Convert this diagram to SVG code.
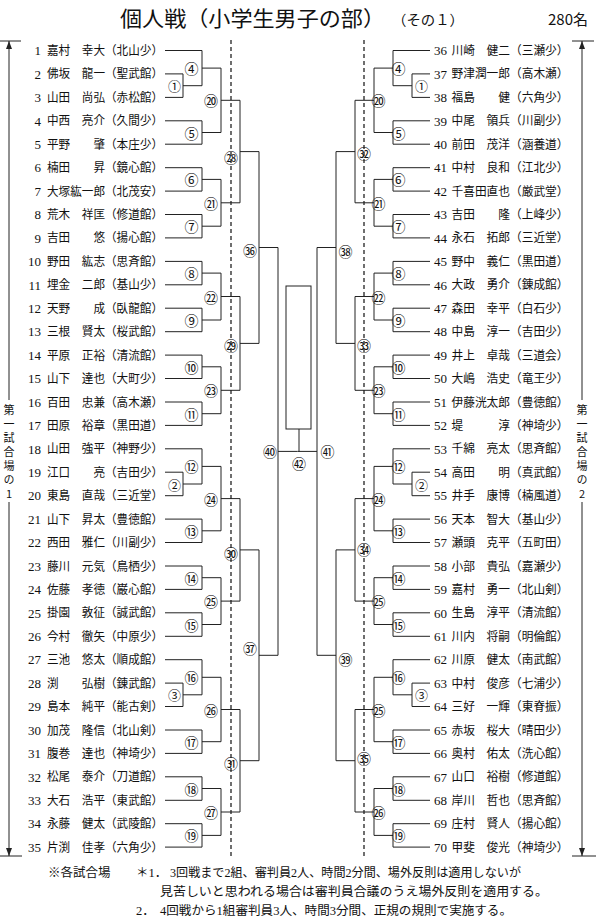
<svg xmlns="http://www.w3.org/2000/svg" xmlns:xlink="http://www.w3.org/1999/xlink" width="600" height="921" viewBox="0 0 600 921">
<style>
.bg{fill:#fff}
.ln{fill:none;stroke:#222;stroke-width:1}
.ds{fill:none;stroke:#222;stroke-width:1.3;stroke-dasharray:4 3}
.num{font-family:"Liberation Serif","Noto Sans CJK JP",serif;font-size:13px;fill:#111;text-anchor:end}
.nm{font-family:"Noto Sans CJK JP",sans-serif;font-size:12px;fill:#111}
.c{font-family:"Noto Sans CJK JP",sans-serif;font-size:14px;fill:#111;text-anchor:middle;dominant-baseline:central}
.cp{font-size:13px}
.vt{font-family:"Noto Sans CJK JP",sans-serif;font-size:11px;fill:#111;writing-mode:vertical-rl;text-orientation:upright;letter-spacing:3px}
.ft{font-family:"Liberation Serif","Noto Sans CJK JP",serif;font-size:12.5px;fill:#111}
.ti{font-family:"Noto Sans CJK JP",sans-serif;fill:#111}
</style>
<defs>
<marker id="ah" viewBox="0 0 8 6" refX="8" refY="3" markerWidth="8" markerHeight="6" markerUnits="userSpaceOnUse" orient="auto-start-reverse"><path d="M0,0 L8,3 L0,6 z" fill="#222"/></marker>
</defs>
<rect class="bg" x="0" y="0" width="600" height="921"/>

<g id="title">
<text class="ti" x="120" y="26" font-size="21" textLength="265" lengthAdjust="spacingAndGlyphs">個人戦（小学生男子の部）</text>
<text class="ti" x="392" y="25" font-size="14" textLength="72" lengthAdjust="spacingAndGlyphs">（その１）</text>
<text class="ti" x="548" y="25" font-size="15" font-family="Liberation Serif, Noto Sans CJK JP, serif">280名</text>
</g>

<g id="connectors">
<path class="ds" d="M231 40V858M364 40V858"/>
<g id="conL">
<path class="ln" d="M165 50.5H202M165 73.9H183M165 97.4H183M165 120.8H202M165 144.2H202M165 167.7H202M165 191.1H202M165 214.5H202M165 237.9H202M165 261.4H202M165 284.8H202M165 308.2H202M165 331.7H202M165 355.1H202M165 378.5H202M165 402H202M165 425.4H202M165 448.8H202M165 472.2H183M165 495.7H183M165 519.1H202M165 542.5H202M165 566H202M165 589.4H202M165 612.8H202M165 636.3H202M165 659.7H202M165 683.1H183M165 706.5H183M165 730H202M165 753.4H202M165 776.8H202M165 800.3H202M165 823.7H202M165 847.1H202"/>
<path class="ln" d="M183 73.9V97.4M183 85.7H202M183 472.2V495.7M183 484H202M183 683.1V706.5M183 694.8H202"/>
<path class="ln" d="M202 50.5V85.7M202 68.1H221M202 120.8V144.2M202 132.5H221M202 167.7V191.1M202 179.4H221M202 214.5V237.9M202 226.2H221M202 261.4V284.8M202 273.1H221M202 308.2V331.7M202 320H221M202 355.1V378.5M202 366.8H221M202 402V425.4M202 413.7H221M202 448.8V484M202 466.4H221M202 519.1V542.5M202 530.8H221M202 566V589.4M202 577.7H221M202 612.8V636.3M202 624.5H221M202 659.7V694.8M202 677.3H221M202 730V753.4M202 741.7H221M202 776.8V800.3M202 788.5H221M202 823.7V847.1M202 835.4H221"/>
<path class="ln" d="M221 68.1V132.5M221 100.3H240M221 179.4V226.2M221 202.8H240M221 273.1V320M221 296.5H240M221 366.8V413.7M221 390.3H240M221 466.4V530.8M221 498.6H240M221 577.7V624.5M221 601.1H240M221 677.3V741.7M221 709.5H240M221 788.5V835.4M221 812H240"/>
<path class="ln" d="M240 100.3V202.8M240 151.6H259M240 296.5V390.3M240 343.4H259M240 498.6V601.1M240 549.9H259M240 709.5V812M240 760.7H259"/>
<path class="ln" d="M259 151.6V343.4M259 247.5H278M259 549.9V760.7M259 655.3H278"/>
<path class="ln" d="M278 247.5V655.3M278 451.4H297.5"/>
</g>
<use xlink:href="#conL" href="#conL" transform="matrix(-1 0 0 1 595 0)"/>
<path class="ln" d="M299 429V451.4"/>
<path class="ln" d="M0 41H21M0 856H22"/>
<path class="ln" d="M9 400V41" marker-end="url(#ah)"/>
<path class="ln" d="M9 502V856" marker-end="url(#ah)"/>
<path class="ln" d="M572 41H594M572 856H596"/>
<path class="ln" d="M582 400V41" marker-end="url(#ah)"/>
<path class="ln" d="M582 502V856" marker-end="url(#ah)"/>
</g>

<g id="winner"><rect class="ln" x="286" y="286" width="25" height="143"/></g>

<g id="side1"><text class="vt" x="9" y="404">第一試合場の1</text></g>
<g id="side2"><text class="vt" x="582" y="404">第一試合場の2</text></g>

<g id="players-left">
<g id="p1" transform="translate(0,50.5)"><text class="num" x="41" y="4.7">1</text><text class="nm" x="47" y="4.5" textLength="116" lengthAdjust="spacingAndGlyphs">嘉村　幸大（北山少）</text></g>
<g id="p2" transform="translate(0,73.9)"><text class="num" x="41" y="4.7">2</text><text class="nm" x="47" y="4.5" textLength="116" lengthAdjust="spacingAndGlyphs">佛坂　龍一（聖武館）</text></g>
<g id="p3" transform="translate(0,97.4)"><text class="num" x="41" y="4.7">3</text><text class="nm" x="47" y="4.5" textLength="116" lengthAdjust="spacingAndGlyphs">山田　尚弘（赤松館）</text></g>
<g id="p4" transform="translate(0,120.8)"><text class="num" x="41" y="4.7">4</text><text class="nm" x="47" y="4.5" textLength="116" lengthAdjust="spacingAndGlyphs">中西　亮介（久間少）</text></g>
<g id="p5" transform="translate(0,144.2)"><text class="num" x="41" y="4.7">5</text><text class="nm" x="47" y="4.5" textLength="116" lengthAdjust="spacingAndGlyphs">平野　　肇（本庄少）</text></g>
<g id="p6" transform="translate(0,167.7)"><text class="num" x="41" y="4.7">6</text><text class="nm" x="47" y="4.5" textLength="116" lengthAdjust="spacingAndGlyphs">楠田　　昇（鏡心館）</text></g>
<g id="p7" transform="translate(0,191.1)"><text class="num" x="41" y="4.7">7</text><text class="nm" x="47" y="4.5" textLength="116" lengthAdjust="spacingAndGlyphs">大塚紘一郎（北茂安）</text></g>
<g id="p8" transform="translate(0,214.5)"><text class="num" x="41" y="4.7">8</text><text class="nm" x="47" y="4.5" textLength="116" lengthAdjust="spacingAndGlyphs">荒木　祥匡（修道館）</text></g>
<g id="p9" transform="translate(0,237.9)"><text class="num" x="41" y="4.7">9</text><text class="nm" x="47" y="4.5" textLength="116" lengthAdjust="spacingAndGlyphs">吉田　　悠（揚心館）</text></g>
<g id="p10" transform="translate(0,261.4)"><text class="num" x="41" y="4.7">10</text><text class="nm" x="47" y="4.5" textLength="116" lengthAdjust="spacingAndGlyphs">野田　紘志（思斉館）</text></g>
<g id="p11" transform="translate(0,284.8)"><text class="num" x="41" y="4.7">11</text><text class="nm" x="47" y="4.5" textLength="116" lengthAdjust="spacingAndGlyphs">埋金　二郎（基山少）</text></g>
<g id="p12" transform="translate(0,308.2)"><text class="num" x="41" y="4.7">12</text><text class="nm" x="47" y="4.5" textLength="116" lengthAdjust="spacingAndGlyphs">天野　　成（臥龍館）</text></g>
<g id="p13" transform="translate(0,331.7)"><text class="num" x="41" y="4.7">13</text><text class="nm" x="47" y="4.5" textLength="116" lengthAdjust="spacingAndGlyphs">三根　賢太（桜武館）</text></g>
<g id="p14" transform="translate(0,355.1)"><text class="num" x="41" y="4.7">14</text><text class="nm" x="47" y="4.5" textLength="116" lengthAdjust="spacingAndGlyphs">平原　正裕（清流館）</text></g>
<g id="p15" transform="translate(0,378.5)"><text class="num" x="41" y="4.7">15</text><text class="nm" x="47" y="4.5" textLength="116" lengthAdjust="spacingAndGlyphs">山下　達也（大町少）</text></g>
<g id="p16" transform="translate(0,402)"><text class="num" x="41" y="4.7">16</text><text class="nm" x="47" y="4.5" textLength="116" lengthAdjust="spacingAndGlyphs">百田　忠兼（高木瀬）</text></g>
<g id="p17" transform="translate(0,425.4)"><text class="num" x="41" y="4.7">17</text><text class="nm" x="47" y="4.5" textLength="116" lengthAdjust="spacingAndGlyphs">田原　裕章（黒田道）</text></g>
<g id="p18" transform="translate(0,448.8)"><text class="num" x="41" y="4.7">18</text><text class="nm" x="47" y="4.5" textLength="116" lengthAdjust="spacingAndGlyphs">山田　強平（神野少）</text></g>
<g id="p19" transform="translate(0,472.2)"><text class="num" x="41" y="4.7">19</text><text class="nm" x="47" y="4.5" textLength="116" lengthAdjust="spacingAndGlyphs">江口　　亮（吉田少）</text></g>
<g id="p20" transform="translate(0,495.7)"><text class="num" x="41" y="4.7">20</text><text class="nm" x="47" y="4.5" textLength="116" lengthAdjust="spacingAndGlyphs">東島　直哉（三近堂）</text></g>
<g id="p21" transform="translate(0,519.1)"><text class="num" x="41" y="4.7">21</text><text class="nm" x="47" y="4.5" textLength="116" lengthAdjust="spacingAndGlyphs">山下　昇太（豊徳館）</text></g>
<g id="p22" transform="translate(0,542.5)"><text class="num" x="41" y="4.7">22</text><text class="nm" x="47" y="4.5" textLength="116" lengthAdjust="spacingAndGlyphs">西田　雅仁（川副少）</text></g>
<g id="p23" transform="translate(0,566)"><text class="num" x="41" y="4.7">23</text><text class="nm" x="47" y="4.5" textLength="116" lengthAdjust="spacingAndGlyphs">藤川　元気（鳥栖少）</text></g>
<g id="p24" transform="translate(0,589.4)"><text class="num" x="41" y="4.7">24</text><text class="nm" x="47" y="4.5" textLength="116" lengthAdjust="spacingAndGlyphs">佐藤　孝徳（巌心館）</text></g>
<g id="p25" transform="translate(0,612.8)"><text class="num" x="41" y="4.7">25</text><text class="nm" x="47" y="4.5" textLength="116" lengthAdjust="spacingAndGlyphs">掛園　敦征（誠武館）</text></g>
<g id="p26" transform="translate(0,636.3)"><text class="num" x="41" y="4.7">26</text><text class="nm" x="47" y="4.5" textLength="116" lengthAdjust="spacingAndGlyphs">今村　徹矢（中原少）</text></g>
<g id="p27" transform="translate(0,659.7)"><text class="num" x="41" y="4.7">27</text><text class="nm" x="47" y="4.5" textLength="116" lengthAdjust="spacingAndGlyphs">三池　悠太（順成館）</text></g>
<g id="p28" transform="translate(0,683.1)"><text class="num" x="41" y="4.7">28</text><text class="nm" x="47" y="4.5" textLength="116" lengthAdjust="spacingAndGlyphs">渕　　弘樹（錬武館）</text></g>
<g id="p29" transform="translate(0,706.5)"><text class="num" x="41" y="4.7">29</text><text class="nm" x="47" y="4.5" textLength="116" lengthAdjust="spacingAndGlyphs">島本　純平（能古剣）</text></g>
<g id="p30" transform="translate(0,730)"><text class="num" x="41" y="4.7">30</text><text class="nm" x="47" y="4.5" textLength="116" lengthAdjust="spacingAndGlyphs">加茂　隆信（北山剣）</text></g>
<g id="p31" transform="translate(0,753.4)"><text class="num" x="41" y="4.7">31</text><text class="nm" x="47" y="4.5" textLength="116" lengthAdjust="spacingAndGlyphs">腹巻　達也（神埼少）</text></g>
<g id="p32" transform="translate(0,776.8)"><text class="num" x="41" y="4.7">32</text><text class="nm" x="47" y="4.5" textLength="116" lengthAdjust="spacingAndGlyphs">松尾　泰介（刀道館）</text></g>
<g id="p33" transform="translate(0,800.3)"><text class="num" x="41" y="4.7">33</text><text class="nm" x="47" y="4.5" textLength="116" lengthAdjust="spacingAndGlyphs">大石　浩平（東武館）</text></g>
<g id="p34" transform="translate(0,823.7)"><text class="num" x="41" y="4.7">34</text><text class="nm" x="47" y="4.5" textLength="116" lengthAdjust="spacingAndGlyphs">永藤　健太（武陵館）</text></g>
<g id="p35" transform="translate(0,847.1)"><text class="num" x="41" y="4.7">35</text><text class="nm" x="47" y="4.5" textLength="116" lengthAdjust="spacingAndGlyphs">片渕　佳孝（六角少）</text></g>
</g>

<g id="players-right">
<g id="p36" transform="translate(0,50.5)"><text class="num" x="447" y="4.7">36</text><text class="nm" x="451.5" y="4.5" textLength="117" lengthAdjust="spacingAndGlyphs">川崎　健二（三瀬少）</text></g>
<g id="p37" transform="translate(0,73.9)"><text class="num" x="447" y="4.7">37</text><text class="nm" x="451.5" y="4.5" textLength="117" lengthAdjust="spacingAndGlyphs">野津潤一郎（高木瀬）</text></g>
<g id="p38" transform="translate(0,97.4)"><text class="num" x="447" y="4.7">38</text><text class="nm" x="451.5" y="4.5" textLength="117" lengthAdjust="spacingAndGlyphs">福島　　健（六角少）</text></g>
<g id="p39" transform="translate(0,120.8)"><text class="num" x="447" y="4.7">39</text><text class="nm" x="451.5" y="4.5" textLength="117" lengthAdjust="spacingAndGlyphs">中尾　領兵（川副少）</text></g>
<g id="p40" transform="translate(0,144.2)"><text class="num" x="447" y="4.7">40</text><text class="nm" x="451.5" y="4.5" textLength="117" lengthAdjust="spacingAndGlyphs">前田　茂洋（涵養道）</text></g>
<g id="p41" transform="translate(0,167.7)"><text class="num" x="447" y="4.7">41</text><text class="nm" x="451.5" y="4.5" textLength="117" lengthAdjust="spacingAndGlyphs">中村　良和（江北少）</text></g>
<g id="p42" transform="translate(0,191.1)"><text class="num" x="447" y="4.7">42</text><text class="nm" x="451.5" y="4.5" textLength="117" lengthAdjust="spacingAndGlyphs">千喜田直也（厳武堂）</text></g>
<g id="p43" transform="translate(0,214.5)"><text class="num" x="447" y="4.7">43</text><text class="nm" x="451.5" y="4.5" textLength="117" lengthAdjust="spacingAndGlyphs">吉田　　隆（上峰少）</text></g>
<g id="p44" transform="translate(0,237.9)"><text class="num" x="447" y="4.7">44</text><text class="nm" x="451.5" y="4.5" textLength="117" lengthAdjust="spacingAndGlyphs">永石　拓郎（三近堂）</text></g>
<g id="p45" transform="translate(0,261.4)"><text class="num" x="447" y="4.7">45</text><text class="nm" x="451.5" y="4.5" textLength="117" lengthAdjust="spacingAndGlyphs">野中　義仁（黒田道）</text></g>
<g id="p46" transform="translate(0,284.8)"><text class="num" x="447" y="4.7">46</text><text class="nm" x="451.5" y="4.5" textLength="117" lengthAdjust="spacingAndGlyphs">大政　勇介（錬成館）</text></g>
<g id="p47" transform="translate(0,308.2)"><text class="num" x="447" y="4.7">47</text><text class="nm" x="451.5" y="4.5" textLength="117" lengthAdjust="spacingAndGlyphs">森田　幸平（白石少）</text></g>
<g id="p48" transform="translate(0,331.7)"><text class="num" x="447" y="4.7">48</text><text class="nm" x="451.5" y="4.5" textLength="117" lengthAdjust="spacingAndGlyphs">中島　淳一（吉田少）</text></g>
<g id="p49" transform="translate(0,355.1)"><text class="num" x="447" y="4.7">49</text><text class="nm" x="451.5" y="4.5" textLength="117" lengthAdjust="spacingAndGlyphs">井上　卓哉（三道会）</text></g>
<g id="p50" transform="translate(0,378.5)"><text class="num" x="447" y="4.7">50</text><text class="nm" x="451.5" y="4.5" textLength="117" lengthAdjust="spacingAndGlyphs">大嶋　浩史（竜王少）</text></g>
<g id="p51" transform="translate(0,402)"><text class="num" x="447" y="4.7">51</text><text class="nm" x="451.5" y="4.5" textLength="117" lengthAdjust="spacingAndGlyphs">伊藤洸太郎（豊徳館）</text></g>
<g id="p52" transform="translate(0,425.4)"><text class="num" x="447" y="4.7">52</text><text class="nm" x="451.5" y="4.5" textLength="117" lengthAdjust="spacingAndGlyphs">堤　　　淳（神埼少）</text></g>
<g id="p53" transform="translate(0,448.8)"><text class="num" x="447" y="4.7">53</text><text class="nm" x="451.5" y="4.5" textLength="117" lengthAdjust="spacingAndGlyphs">千綿　亮太（思斉館）</text></g>
<g id="p54" transform="translate(0,472.2)"><text class="num" x="447" y="4.7">54</text><text class="nm" x="451.5" y="4.5" textLength="117" lengthAdjust="spacingAndGlyphs">高田　　明（真武館）</text></g>
<g id="p55" transform="translate(0,495.7)"><text class="num" x="447" y="4.7">55</text><text class="nm" x="451.5" y="4.5" textLength="117" lengthAdjust="spacingAndGlyphs">井手　康博（楠風道）</text></g>
<g id="p56" transform="translate(0,519.1)"><text class="num" x="447" y="4.7">56</text><text class="nm" x="451.5" y="4.5" textLength="117" lengthAdjust="spacingAndGlyphs">天本　智大（基山少）</text></g>
<g id="p57" transform="translate(0,542.5)"><text class="num" x="447" y="4.7">57</text><text class="nm" x="451.5" y="4.5" textLength="117" lengthAdjust="spacingAndGlyphs">瀬頭　克平（五町田）</text></g>
<g id="p58" transform="translate(0,566)"><text class="num" x="447" y="4.7">58</text><text class="nm" x="451.5" y="4.5" textLength="117" lengthAdjust="spacingAndGlyphs">小部　貴弘（嘉瀬少）</text></g>
<g id="p59" transform="translate(0,589.4)"><text class="num" x="447" y="4.7">59</text><text class="nm" x="451.5" y="4.5" textLength="117" lengthAdjust="spacingAndGlyphs">嘉村　勇一（北山剣）</text></g>
<g id="p60" transform="translate(0,612.8)"><text class="num" x="447" y="4.7">60</text><text class="nm" x="451.5" y="4.5" textLength="117" lengthAdjust="spacingAndGlyphs">生島　淳平（清流館）</text></g>
<g id="p61" transform="translate(0,636.3)"><text class="num" x="447" y="4.7">61</text><text class="nm" x="451.5" y="4.5" textLength="117" lengthAdjust="spacingAndGlyphs">川内　将嗣（明倫館）</text></g>
<g id="p62" transform="translate(0,659.7)"><text class="num" x="447" y="4.7">62</text><text class="nm" x="451.5" y="4.5" textLength="117" lengthAdjust="spacingAndGlyphs">川原　健太（南武館）</text></g>
<g id="p63" transform="translate(0,683.1)"><text class="num" x="447" y="4.7">63</text><text class="nm" x="451.5" y="4.5" textLength="117" lengthAdjust="spacingAndGlyphs">中村　俊彦（七浦少）</text></g>
<g id="p64" transform="translate(0,706.5)"><text class="num" x="447" y="4.7">64</text><text class="nm" x="451.5" y="4.5" textLength="117" lengthAdjust="spacingAndGlyphs">三好　一輝（東脊振）</text></g>
<g id="p65" transform="translate(0,730)"><text class="num" x="447" y="4.7">65</text><text class="nm" x="451.5" y="4.5" textLength="117" lengthAdjust="spacingAndGlyphs">赤坂　桜大（晴田少）</text></g>
<g id="p66" transform="translate(0,753.4)"><text class="num" x="447" y="4.7">66</text><text class="nm" x="451.5" y="4.5" textLength="117" lengthAdjust="spacingAndGlyphs">奥村　佑太（洗心館）</text></g>
<g id="p67" transform="translate(0,776.8)"><text class="num" x="447" y="4.7">67</text><text class="nm" x="451.5" y="4.5" textLength="117" lengthAdjust="spacingAndGlyphs">山口　裕樹（修道館）</text></g>
<g id="p68" transform="translate(0,800.3)"><text class="num" x="447" y="4.7">68</text><text class="nm" x="451.5" y="4.5" textLength="117" lengthAdjust="spacingAndGlyphs">岸川　哲也（思斉館）</text></g>
<g id="p69" transform="translate(0,823.7)"><text class="num" x="447" y="4.7">69</text><text class="nm" x="451.5" y="4.5" textLength="117" lengthAdjust="spacingAndGlyphs">庄村　賢人（揚心館）</text></g>
<g id="p70" transform="translate(0,847.1)"><text class="num" x="447" y="4.7">70</text><text class="nm" x="451.5" y="4.5" textLength="117" lengthAdjust="spacingAndGlyphs">甲斐　俊光（神埼少）</text></g>
</g>

<g id="matches-left">
<g id="mL1"><text class="c cp" x="174.5" y="85.7">①</text></g>
<g id="mL2"><text class="c cp" x="174.5" y="484">②</text></g>
<g id="mL3"><text class="c cp" x="174.5" y="694.8">③</text></g>
<g id="mL4"><text class="c" x="191.5" y="68.1">④</text></g>
<g id="mL5"><text class="c" x="191.5" y="132.5">⑤</text></g>
<g id="mL6"><text class="c" x="191.5" y="179.4">⑥</text></g>
<g id="mL7"><text class="c" x="191.5" y="226.2">⑦</text></g>
<g id="mL8"><text class="c" x="191.5" y="273.1">⑧</text></g>
<g id="mL9"><text class="c" x="191.5" y="320">⑨</text></g>
<g id="mL10"><text class="c" x="191.5" y="366.8">⑩</text></g>
<g id="mL11"><text class="c" x="191.5" y="413.7">⑪</text></g>
<g id="mL12"><text class="c" x="191.5" y="466.4">⑫</text></g>
<g id="mL13"><text class="c" x="191.5" y="530.8">⑬</text></g>
<g id="mL14"><text class="c" x="191.5" y="577.7">⑭</text></g>
<g id="mL15"><text class="c" x="191.5" y="624.5">⑮</text></g>
<g id="mL16"><text class="c" x="191.5" y="677.3">⑯</text></g>
<g id="mL17"><text class="c" x="191.5" y="741.7">⑰</text></g>
<g id="mL18"><text class="c" x="191.5" y="788.5">⑱</text></g>
<g id="mL19"><text class="c" x="191.5" y="835.4">⑲</text></g>
<g id="mL20"><text class="c" x="211" y="100.3">⑳</text></g>
<g id="mL21"><text class="c" x="211" y="202.8">㉑</text></g>
<g id="mL22"><text class="c" x="211" y="296.5">㉒</text></g>
<g id="mL23"><text class="c" x="211" y="390.3">㉓</text></g>
<g id="mL24"><text class="c" x="211" y="498.6">㉔</text></g>
<g id="mL25"><text class="c" x="211" y="601.1">㉕</text></g>
<g id="mL26"><text class="c" x="211" y="709.5">㉖</text></g>
<g id="mL27"><text class="c" x="211" y="812">㉗</text></g>
<g id="mL28"><text class="c" x="231" y="157">㉘</text></g>
<g id="mL29"><text class="c" x="231" y="345">㉙</text></g>
<g id="mL30"><text class="c" x="231" y="553">㉚</text></g>
<g id="mL31"><text class="c" x="231" y="763">㉛</text></g>
<g id="mL36"><text class="c" x="250" y="250">㊱</text></g>
<g id="mL37"><text class="c" x="250" y="648">㊲</text></g>
<g id="mL40"><text class="c" x="270" y="451.4">㊵</text></g>
</g>

<g id="matches-right">
<g id="mR1"><text class="c cp" x="421.5" y="85.7">①</text></g>
<g id="mR2"><text class="c cp" x="421.5" y="484">②</text></g>
<g id="mR3"><text class="c cp" x="421.5" y="694.8">③</text></g>
<g id="mR4"><text class="c" x="398.5" y="68.1">④</text></g>
<g id="mR5"><text class="c" x="398.5" y="132.5">⑤</text></g>
<g id="mR6"><text class="c" x="398.5" y="179.4">⑥</text></g>
<g id="mR7"><text class="c" x="398.5" y="226.2">⑦</text></g>
<g id="mR8"><text class="c" x="398.5" y="273.1">⑧</text></g>
<g id="mR9"><text class="c" x="398.5" y="320">⑨</text></g>
<g id="mR10"><text class="c" x="398.5" y="366.8">⑩</text></g>
<g id="mR11"><text class="c" x="398.5" y="413.7">⑪</text></g>
<g id="mR12"><text class="c" x="398.5" y="466.4">⑫</text></g>
<g id="mR13"><text class="c" x="398.5" y="530.8">⑬</text></g>
<g id="mR14"><text class="c" x="398.5" y="577.7">⑭</text></g>
<g id="mR15"><text class="c" x="398.5" y="624.5">⑮</text></g>
<g id="mR16"><text class="c" x="398.5" y="677.3">⑯</text></g>
<g id="mR17"><text class="c" x="398.5" y="741.7">⑰</text></g>
<g id="mR18"><text class="c" x="398.5" y="788.5">⑱</text></g>
<g id="mR19"><text class="c" x="398.5" y="835.4">⑲</text></g>
<g id="mR20"><text class="c" x="378.5" y="100.3">⑳</text></g>
<g id="mR21"><text class="c" x="378.5" y="202.8">㉑</text></g>
<g id="mR22"><text class="c" x="378.5" y="296.5">㉒</text></g>
<g id="mR23"><text class="c" x="378.5" y="390.3">㉓</text></g>
<g id="mR24"><text class="c" x="378.5" y="498.6">㉔</text></g>
<g id="mR25a"><text class="c" x="378.5" y="601.1">㉕</text></g>
<g id="mR25b"><text class="c" x="378.5" y="709.5">㉕</text></g>
<g id="mR26"><text class="c" x="378.5" y="812">㉖</text></g>
<g id="mR32"><text class="c" x="364" y="153">㉜</text></g>
<g id="mR33"><text class="c" x="364" y="345">㉝</text></g>
<g id="mR34"><text class="c" x="364" y="549">㉞</text></g>
<g id="mR35"><text class="c" x="364" y="758">㉟</text></g>
<g id="mR38"><text class="c" x="345.5" y="251">㊳</text></g>
<g id="mR39"><text class="c" x="345.5" y="659">㊴</text></g>
<g id="mR41"><text class="c" x="327.5" y="451.4">㊶</text></g>
<g id="mF42"><text class="c" x="299" y="463">㊷</text></g>
</g>

<g id="footer">
<text class="ft" x="48" y="877">※各試合場</text>
<text class="ft" x="136" y="877">＊1．</text>
<text class="ft" x="170" y="877" textLength="351" lengthAdjust="spacingAndGlyphs">3回戦まで2組、審判員2人、時間2分間、場外反則は適用しないが</text>
<text class="ft" x="160" y="896" textLength="388" lengthAdjust="spacingAndGlyphs">見苦しいと思われる場合は審判員合議のうえ場外反則を適用する。</text>
<text class="ft" x="136" y="915">2．</text>
<text class="ft" x="160" y="915" textLength="352" lengthAdjust="spacingAndGlyphs">4回戦から1組審判員3人、時間3分間、正規の規則で実施する。</text>
</g>
</svg>
